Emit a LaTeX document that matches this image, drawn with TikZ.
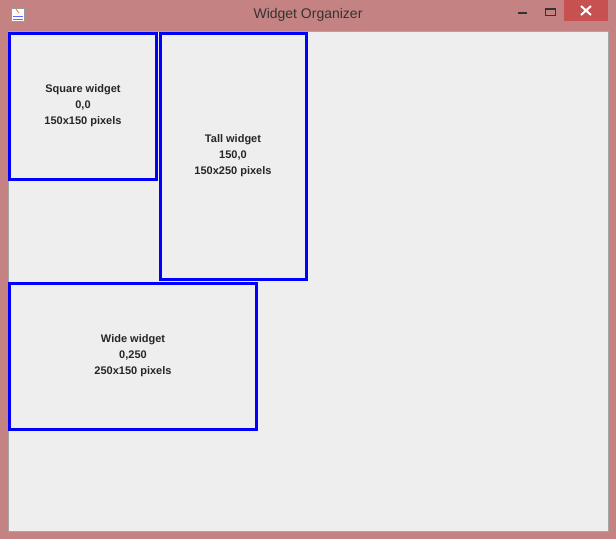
\documentclass[tikz,border=0pt]{standalone}
\usepackage{fontspec}
\setmainfont{Liberation Sans}
\definecolor{frame}{HTML}{C58282}
\definecolor{client}{HTML}{EEEEEE}
\definecolor{closebtn}{HTML}{C75050}
\begin{document}
\begin{tikzpicture}[x=1pt,y=-1pt,
  widget/.style={draw=blue,line width=3pt,fill=client,inner sep=0pt},
  wlabel/.style={font=\fontsize{11}{16}\selectfont\bfseries,text=black!85,align=center}]
\useasboundingbox (0,0) rectangle (616,539);
\fill[frame] (0,0) rectangle (616,539);
\fill[client] (8,31) rectangle (608,531);
\draw[black!35] (8,31) rectangle (608,531);
\node[font=\fontsize{14}{16}\selectfont,text=black!80] (title) at (308,15) {Widget Organizer};
\fill[closebtn] (564,0) rectangle (608,21);
\draw[white,line width=2pt] (581,6) -- (591,15) (591,6) -- (581,15);
\coordinate (close) at (586,10);
\draw[black!80,line width=2pt] (518,13) -- (527,13);
\draw[black!80,line width=1pt] (545,8) rectangle (555,15);
\draw[black!80,line width=2pt] (545,8.5) -- (555,8.5);
\node[draw=black!40,fill=white,minimum size=13pt,inner sep=0pt] (icon) at (18,15) {};
\draw[orange,line width=0.8pt] (16,9) -- (19,13);
\draw[blue!60,line width=0.6pt] (13,16) -- (23,16) (13,19) -- (23,19);
\draw[widget] (9.5,33.5) rectangle (156.5,179.5);
\node[wlabel] (sq) at (83,106) {Square widget\\0,0\\150x150 pixels};
\draw[widget] (160.5,33.5) rectangle (306.5,279.5);
\node[wlabel] (tall) at (233,156) {Tall widget\\150,0\\150x250 pixels};
\draw[widget] (9.5,283.5) rectangle (256.5,429.5);
\node[wlabel] (wide) at (133,356) {Wide widget\\0,250\\250x150 pixels};
\end{tikzpicture}
\end{document}
